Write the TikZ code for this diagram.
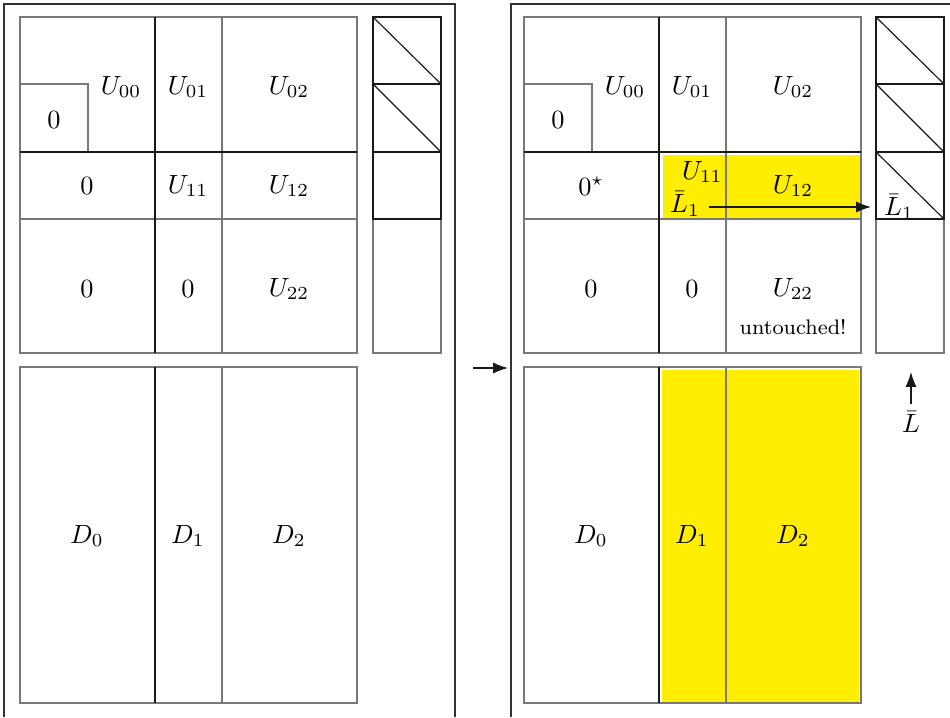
\documentclass[tikz,border=0pt]{standalone}
\usepackage{amsmath}
\usepackage{xcolor}
\usepackage{tikz}
\usetikzlibrary{positioning, arrows.meta, calc}
\definecolor{gridcolor}{RGB}{120,120,120}
\definecolor{blockcolor}{RGB}{25,25,25}
\definecolor{framecolor}{RGB}{50,50,50}
\definecolor{activecolor}{RGB}{255,238,0}

\begin{document}
\begin{tikzpicture}[
    x=0.38pt,
    y=-0.38pt,
    thinline/.style={draw=gridcolor, line width=0.6pt},
    blockline/.style={draw=blockcolor, line width=0.9pt},
    vecline/.style={draw=blockcolor, line width=0.55pt},
    diagline/.style={draw=blockcolor, line width=0.45pt},
    frameline/.style={draw=framecolor, line width=0.5pt},
    activefill/.style={fill=activecolor, draw=none},
    entry/.style={inner sep=0pt},
    arrow/.style={-{Latex[length=2mm, width=1.5mm]}, line width=0.5pt, color=blockcolor}
]

\useasboundingbox (0,0) rectangle (950,717);

%% LEFT PANEL - before the step %%
\begin{scope}
    \draw [frameline] (4,717) -- (4,4) -- (455,4) -- (455,717);

    % U blocks
    \draw [thinline] (20,17) rectangle (357,353);
    \draw [thinline] (222,17) -- (222,353);
    \draw [thinline] (20,219) -- (357,219);
    \draw [thinline] (20,84) -- (88,84) -- (88,152);
    \draw [blockline] (155,17) -- (155,353);
    \draw [blockline] (20,152) -- (357,152);

    % panel vector
    \draw [thinline] (373,219) rectangle (441,353);
    \draw [vecline] (373,17) rectangle (441,219);
    \draw [blockline] (373,84) -- (441,84);
    \draw [blockline] (373,152) -- (441,152);
    \draw [diagline] (373,17) -- (441,84);
    \draw [diagline] (373,84) -- (441,152);

    % D blocks
    \draw [thinline] (20,367) rectangle (357,703);
    \draw [thinline] (222,367) -- (222,703);
    \draw [blockline] (155,367) -- (155,703);

    \node (lU00) [entry] at (121,87) {$U_{00}$};
    \node (lZ00) [entry] at (54,120) {$0$};
    \node (lU01) [entry] at (188,87) {$U_{01}$};
    \node (lU02) [entry] at (289,87) {$U_{02}$};
    \node (lZ10) [entry] at (87,186) {$0$};
    \node (lU11) [entry] at (188,186) {$U_{11}$};
    \node (lU12) [entry] at (289,186) {$U_{12}$};
    \node (lZ20) [entry] at (87,289) {$0$};
    \node (lZ21) [entry] at (188,289) {$0$};
    \node (lU22) [entry] at (289,289) {$U_{22}$};
    \node (lD0) [entry] at (87,536) {$D_0$};
    \node (lD1) [entry] at (188,536) {$D_1$};
    \node (lD2) [entry] at (289,536) {$D_2$};
\end{scope}

%% STEP ARROW %%
\coordinate (step_from) at (473,368);
\coordinate (step_to) at (508,368);
\draw [arrow] (step_from) -- (step_to);

%% RIGHT PANEL - after the step %%
\begin{scope}[shift={(504,0)}]
    \draw [frameline] (7,717) -- (7,4) -- (446,4);

    % updated blocks
    \fill [activefill] (159,155) rectangle (356,218);
    \fill [activefill] (158,370) rectangle (355,702);

    % U blocks
    \draw [thinline] (20,17) rectangle (357,353);
    \draw [thinline] (222,17) -- (222,353);
    \draw [thinline] (20,219) -- (357,219);
    \draw [thinline] (20,84) -- (88,84) -- (88,152);
    \draw [blockline] (155,17) -- (155,353);
    \draw [blockline] (20,152) -- (357,152);

    % panel vector
    \draw [thinline] (372,219) rectangle (440,353);
    \draw [vecline] (372,17) rectangle (440,219);
    \draw [blockline] (372,84) -- (440,84);
    \draw [blockline] (372,152) -- (440,152);
    \draw [diagline] (372,17) -- (440,84);
    \draw [diagline] (372,84) -- (440,152);
    \draw [diagline] (372,152) -- (440,219);

    % D blocks
    \draw [thinline] (20,367) rectangle (357,703);
    \draw [thinline] (222,367) -- (222,703);
    \draw [blockline] (155,367) -- (155,703);

    \node (rU00) [entry] at (121,87) {$U_{00}$};
    \node (rZ00) [entry] at (54,120) {$0$};
    \node (rU01) [entry] at (188,87) {$U_{01}$};
    \node (rU02) [entry] at (289,87) {$U_{02}$};
    \node (rZ10) [entry] at (87,186) {$0^\star$};
    \node (rU11) [entry, anchor=east] at (219,172) {$U_{11}$};
    \node (rL1) [entry] at (181,204) {$\bar{L}_1$};
    \node (rU12) [entry] at (289,186) {$U_{12}$};
    \node (rZ20) [entry] at (87,289) {$0$};
    \node (rZ21) [entry] at (188,289) {$0$};
    \node (rU22) [entry] at (289,289) {$U_{22}$};
    \node (untouched) [entry, font=\footnotesize, below=7pt of rU22] {untouched!};
    \node (rD0) [entry] at (87,536) {$D_0$};
    \node (rD1) [entry] at (188,536) {$D_1$};
    \node (rD2) [entry] at (289,536) {$D_2$};

    % panel vector labels
    \node (vL1) [entry] at (395,207) {$\bar{L}_1$};
    \node (vL) [entry] at (407,422) {$\bar{L}$};

    %% ARROWS %%
    \coordinate (l1_tail) at (205,207);
    \coordinate (l1_head) at (367,207);
    \draw [arrow] (l1_tail) -- (l1_head);

    \coordinate (vec_bottom) at (407,372);
    \draw [arrow] ([yshift=2.5pt]vL.north) -- (vec_bottom);
\end{scope}

\end{tikzpicture}
\end{document}
